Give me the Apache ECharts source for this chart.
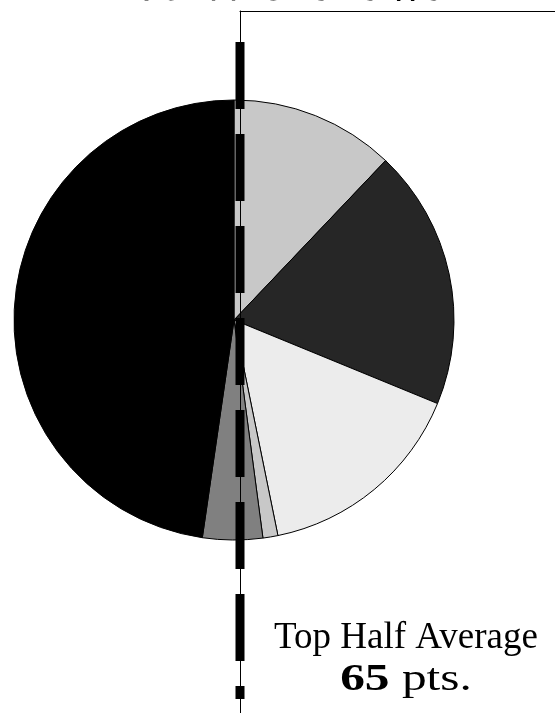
<!DOCTYPE html>
<html>
<head>
<meta charset="utf-8">
<style>
  html, body { margin: 0; padding: 0; background: #ffffff; }
  #chart { width: 555px; height: 713px; }
</style>
<script src="https://cdn.jsdelivr.net/npm/echarts@6/dist/echarts.min.js"></script>
</head>
<body>
<div id="chart"></div>
<script>
// Share of each outcome group (percent), clockwise from 12 o'clock
const categories = ['Group A', 'Group B', 'Group C', 'Group D', 'Group E', 'Withdrawal'];
const shares = [12.1, 19.1, 15.6, 1.1, 4.4, 47.7];
const sliceColors = ['#c8c8c8', '#262626', '#ececec', '#c8c8c8', '#808080', '#000000'];

// Average marker running down the panel (x, y on the panel's 0–100 scale)
const averageLine = [[0, 95.6], [0, 2.0]];

const titleText = '47% Withdrawal';
const averageLabel = 'Top Half Average';
const averageValue = 65;
const averageUnit = 'pts.';

const serif = "'Liberation Serif', 'Times New Roman', serif";

const chart = echarts.init(document.getElementById('chart'), null, { renderer: 'canvas' });

chart.setOption({
  animation: false,
  backgroundColor: '#ffffff',
  title: [
    {
      text: titleText,
      left: 80,
      top: -39,
      padding: 0,
      textStyle: { fontFamily: serif, fontSize: 52, fontWeight: 'bold', color: '#000' }
    },
    {
      text: averageLabel,
      left: 406,
      top: 616,
      padding: 0,
      textAlign: 'center',
      textStyle: { fontFamily: serif, fontSize: 37, fontWeight: 'normal', lineHeight: 44, color: '#000' }
    }
  ],
  // Value line under the label, set in a wide serif
  graphic: [
    {
      type: 'text',
      x: 406,
      y: 680,
      scaleX: 1.3,
      silent: true,
      style: {
        text: '{b|' + averageValue + '}{c| ' + averageUnit + '}',
        align: 'center',
        verticalAlign: 'middle',
        textAlign: 'center',
        textVerticalAlign: 'middle',
        fill: '#000',
        rich: {
          b: { fontFamily: serif, fontSize: 38, fontWeight: 'bold', lineHeight: 40, fill: '#000', color: '#000' },
          c: { fontFamily: serif, fontSize: 38, fontWeight: 'normal', lineHeight: 40, fill: '#000', color: '#000' }
        }
      }
    }
  ],
  grid: { left: 240, top: 11, right: 0, bottom: 0 },
  xAxis: {
    type: 'value', min: 0, max: 100, position: 'top', z: 10,
    axisLine: { show: true, onZero: false, lineStyle: { color: '#000', width: 1 } },
    axisTick: { show: false }, axisLabel: { show: false }, splitLine: { show: false }
  },
  yAxis: {
    type: 'value', min: 0, max: 100, position: 'left', z: 10,
    axisLine: { show: true, onZero: false, lineStyle: { color: '#000', width: 1 } },
    axisTick: { show: false }, axisLabel: { show: false }, splitLine: { show: false }
  },
  series: [
    {
      type: 'pie',
      z: 2,
      center: [234, 320],
      radius: 220,
      startAngle: 90,
      clockwise: true,
      silent: true,
      label: { show: false },
      labelLine: { show: false },
      itemStyle: { borderColor: '#000', borderWidth: 1 },
      data: categories.map((name, i) => ({
        name: name,
        value: shares[i],
        itemStyle: { color: sliceColors[i] }
      }))
    },
    {
      type: 'line',
      z: 6,
      clip: false,
      silent: true,
      symbol: 'none',
      data: averageLine,
      lineStyle: { color: '#000', width: 9, type: [67, 25], cap: 'butt' }
    }
  ]
});
</script>
</body>
</html>
